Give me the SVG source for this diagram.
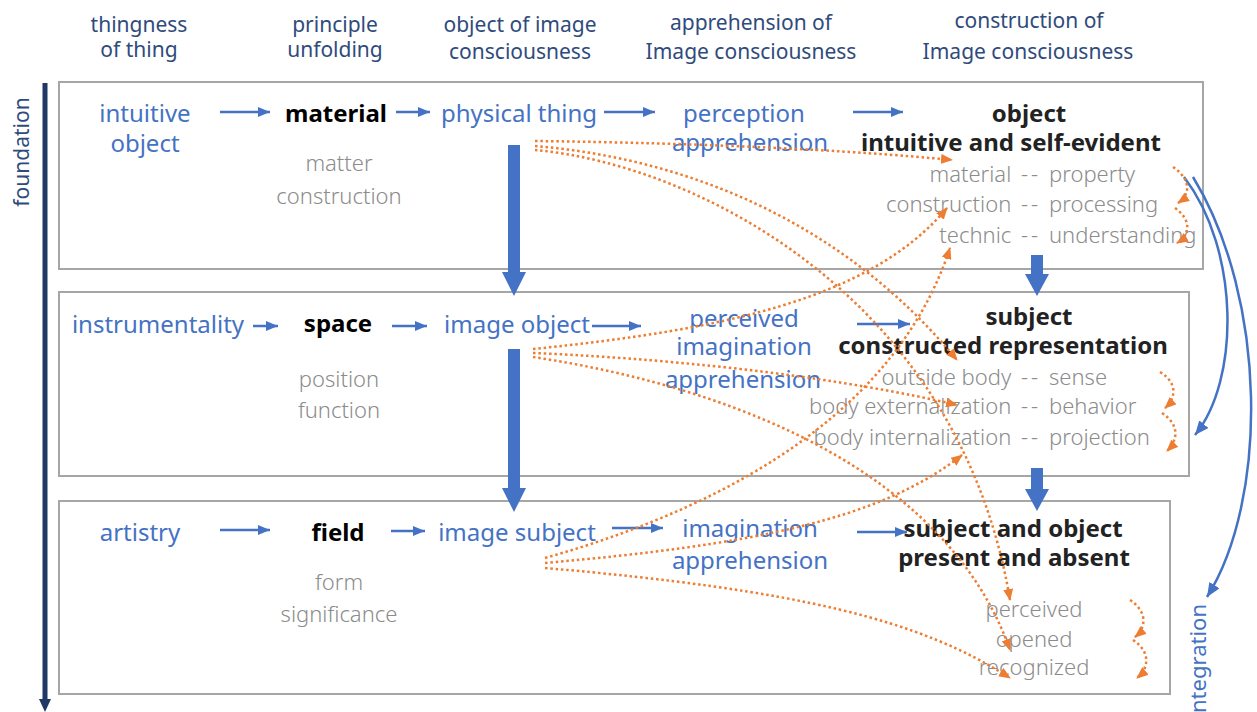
<svg xmlns="http://www.w3.org/2000/svg" width="1257" height="712" viewBox="0 0 1257 712">
<style>
text{font-family:"Noto Sans","Liberation Sans",sans-serif}
.hd{font-size:21px;fill:#2F4B7C;text-anchor:middle}
.bl{font-size:24px;fill:#4472C4;text-anchor:middle}
.bd{font-size:24px;font-weight:bold;fill:#000;text-anchor:middle}
.bd2{font-size:24px;font-weight:bold;fill:#222;text-anchor:middle}
.gr{font-size:22px;fill:#8C8C8C;font-weight:300}
.grm{font-size:22px;fill:#8C8C8C;font-weight:300;text-anchor:middle}
.dd{letter-spacing:3px}
.box{fill:none;stroke:#A6A6A6;stroke-width:2}
.ta{stroke:#4472C4;stroke-width:2.5;fill:none;marker-end:url(#bh)}
.cv{stroke:#4472C4;stroke-width:2.5;fill:none;marker-end:url(#bh2)}
.od{stroke:#ED7D31;stroke-width:2.5;fill:none;stroke-dasharray:2.5 2.8;marker-end:url(#oh)}
.thick{fill:#4472C4}
</style>
<defs>
<marker id="bh" markerUnits="userSpaceOnUse" markerWidth="12" markerHeight="10" refX="12" refY="5" orient="auto"><path d="M0,0 L12,5 L0,10 z" fill="#4472C4"/></marker>
<marker id="bh2" markerUnits="userSpaceOnUse" markerWidth="14" markerHeight="12" refX="14" refY="6" orient="auto"><path d="M0,0 L14,6 L0,12 z" fill="#4472C4"/></marker>
<marker id="oh" markerUnits="userSpaceOnUse" markerWidth="12" markerHeight="10" refX="11" refY="5" orient="auto"><path d="M0,0 L12,5 L0,10 z" fill="#ED7D31"/></marker>
</defs>

<g id="headers">
<text class="hd" x="139" y="32">thingness</text>
<text class="hd" x="139" y="57">of thing</text>
<text class="hd" x="335" y="32">principle</text>
<text class="hd" x="335" y="57">unfolding</text>
<text class="hd" x="520" y="32">object of image</text>
<text class="hd" x="520" y="59">consciousness</text>
<text class="hd" x="751" y="30">apprehension of</text>
<text class="hd" x="751" y="59">Image consciousness</text>
<text class="hd" x="1029" y="28">construction of</text>
<text class="hd" x="1028" y="59">Image consciousness</text>
</g>

<g id="foundation">
<rect x="42.5" y="83" width="5" height="618" fill="#203864"/>
<polygon points="39,699 51,699 45,712" fill="#203864"/>
<text class="hd" transform="translate(29,152) rotate(-90)" x="0" y="0">foundation</text>
</g>

<g id="box1"><rect class="box" x="59" y="82" width="1144" height="187"/></g>
<g id="box2"><rect class="box" x="59" y="292" width="1130" height="184"/></g>
<g id="box3"><rect class="box" x="59" y="501" width="1111" height="193"/></g>

<g id="row1">
<g id="intuitive-object"><text class="bl" x="145" y="122">intuitive</text><text class="bl" x="145" y="152">object</text></g>
<g id="material"><text class="bd" x="336" y="122">material</text><text class="grm" x="339" y="171">matter</text><text class="grm" x="339" y="204">construction</text></g>
<g id="physical-thing"><text class="bl" x="519" y="122">physical thing</text></g>
<g id="perception"><text class="bl" x="744" y="122">perception</text><text class="bl" x="750" y="151">apprehension</text></g>
<g id="object"><text class="bd2" x="1029" y="122">object</text><text class="bd2" x="1011" y="151">intuitive and self-evident</text>
<text class="gr" y="182"><tspan x="1017" text-anchor="end">material </tspan><tspan class="dd" x="1021">-- </tspan><tspan x="1049">property</tspan></text>
<text class="gr" y="212"><tspan x="1017" text-anchor="end">construction </tspan><tspan class="dd" x="1021">-- </tspan><tspan x="1049">processing</tspan></text>
<text class="gr" y="243"><tspan x="1017" text-anchor="end">technic </tspan><tspan class="dd" x="1021">-- </tspan><tspan x="1049">understanding</tspan></text>
</g>
</g>

<g id="row2">
<g id="instrumentality"><text class="bl" x="158" y="333">instrumentality</text></g>
<g id="space"><text class="bd" x="338" y="332">space</text><text class="grm" x="339" y="387">position</text><text class="grm" x="339" y="418">function</text></g>
<g id="image-object"><text class="bl" x="517" y="333">image object</text></g>
<g id="perceived-imagination"><text class="bl" x="744" y="327">perceived</text><text class="bl" x="744" y="355">imagination</text><text class="bl" x="743" y="388">apprehension</text></g>
<g id="subject"><text class="bd2" x="1029" y="325">subject</text><text class="bd2" x="1003" y="354">constructed representation</text>
<text class="gr" y="385"><tspan x="1017" text-anchor="end">outside body </tspan><tspan class="dd" x="1021">-- </tspan><tspan x="1049">sense</tspan></text>
<text class="gr" y="414"><tspan x="1017" text-anchor="end">body externalization </tspan><tspan class="dd" x="1021">-- </tspan><tspan x="1049">behavior</tspan></text>
<text class="gr" y="445"><tspan x="1017" text-anchor="end">body internalization </tspan><tspan class="dd" x="1021">-- </tspan><tspan x="1049">projection</tspan></text>
</g>
</g>

<g id="row3">
<g id="artistry"><text class="bl" x="140" y="541">artistry</text></g>
<g id="field"><text class="bd" x="338" y="541">field</text><text class="grm" x="339" y="590">form</text><text class="grm" x="339" y="622">significance</text></g>
<g id="image-subject"><text class="bl" x="517" y="541">image subject</text></g>
<g id="imagination"><text class="bl" x="750" y="537">imagination</text><text class="bl" x="750" y="569">apprehension</text></g>
<g id="subject-and-object"><text class="bd2" x="1013" y="537">subject and object</text><text class="bd2" x="1014" y="566">present and absent</text>
<text class="grm" x="1034" y="617">perceived</text>
<text class="grm" x="1034" y="647">opened</text>
<text class="grm" x="1034" y="675">recognized</text>
</g>
</g>

<g id="integration"><text class="bl" transform="translate(1206,604) rotate(-90)" x="0" y="0" style="text-anchor:end;font-size:22px">integration</text></g>

<g id="connectors">
<path class="ta" d="M220,112 H270"/>
<path class="ta" d="M396,112 H430"/>
<path class="ta" d="M604,112 H655"/>
<path class="ta" d="M853,112 H903"/>
<path class="ta" d="M253,326 H278"/>
<path class="ta" d="M392,326 H427"/>
<path class="ta" d="M592,326 H641"/>
<path class="ta" d="M857,324 H910"/>
<path class="ta" d="M220,530 H270"/>
<path class="ta" d="M391,531 H425"/>
<path class="ta" d="M612,528 H663"/>
<path class="ta" d="M857,532 H907"/>

<rect class="thick" x="508" y="145" width="12" height="128"/>
<polygon class="thick" points="502,272 526,272 514,296"/>
<rect class="thick" x="508" y="349" width="12" height="140"/>
<polygon class="thick" points="502,488 526,488 514,512"/>
<rect class="thick" x="1031" y="255" width="12" height="20"/>
<polygon class="thick" points="1025,274 1049,274 1037,296"/>
<rect class="thick" x="1031" y="468" width="12" height="22"/>
<polygon class="thick" points="1025,489 1049,489 1037,511"/>

<path class="cv" d="M1184,177 C1240,250 1240,380 1195,435"/>
<path class="cv" d="M1193,177 C1268,300 1268,500 1207,597"/>

<path class="od" d="M535,141 C700,143 850,150 952,160"/>
<path class="od" d="M535,146 C700,160 850,230 957,360"/>
<path class="od" d="M535,150 C700,165 960,300 1010,600"/>
<path class="od" d="M533,349 C720,330 870,300 947,208"/>
<path class="od" d="M533,353 C700,360 850,380 957,405"/>
<path class="od" d="M533,357 C750,390 950,480 1010,650"/>
<path class="od" d="M545,558 C750,500 900,400 950,248"/>
<path class="od" d="M545,563 C750,545 880,520 962,455"/>
<path class="od" d="M545,568 C800,590 920,620 1010,678"/>

<path class="od" d="M1173,167 C1192,180 1190,195 1178,203"/>
<path class="od" d="M1175,208 C1192,220 1190,235 1177,243"/>
<path class="od" d="M1160,372 C1178,383 1176,398 1165,408"/>
<path class="od" d="M1162,413 C1180,425 1178,440 1167,451"/>
<path class="od" d="M1130,600 C1148,612 1146,628 1135,637"/>
<path class="od" d="M1133,640 C1151,652 1149,668 1137,678"/>
</g>
</svg>
